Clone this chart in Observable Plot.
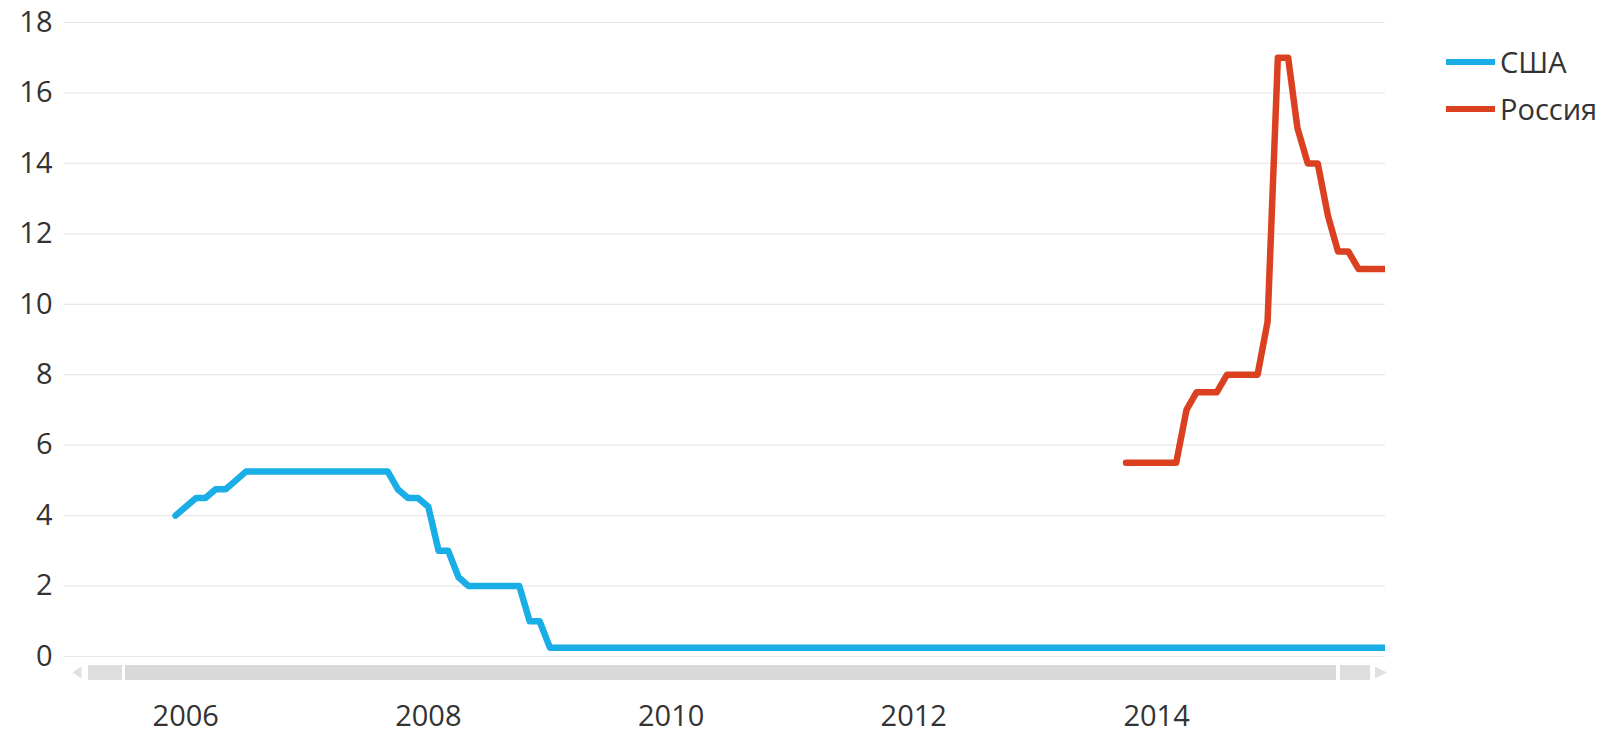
<!DOCTYPE html>
<html>
<head>
<meta charset="utf-8">
<script src="https://cdn.jsdelivr.net/npm/d3@7"></script>
<script src="https://cdn.jsdelivr.net/npm/@observablehq/plot@0.6"></script>
<style>
  html, body { margin: 0; padding: 0; background: #fff; overflow: hidden; }
  #wrap { position: relative; width: 1606px; height: 735px; font-family: "Open Sans", "Noto Sans", sans-serif; }
  #legend { position: absolute; left: 1446px; top: 38px; color: #333; font-size: 29px; }
  .item { display: flex; align-items: center; height: 47px; }
  .sw { width: 49px; height: 6px; margin-right: 5px; }
</style>
</head>
<body>
<div id="wrap"></div>
<script>
// ---- data ----
const seriesNames = ["США", "Россия"];
const seriesColors = ["#1AAEE6", "#DB4121"];

// US policy rate, monthly from 2005-12 to 2015-12
const usStart = [2005, 12];
const usRate = [
  4.0,
  4.25, 4.5, 4.5, 4.75, 4.75, 5.0, 5.25, 5.25, 5.25, 5.25, 5.25, 5.25,
  5.25, 5.25, 5.25, 5.25, 5.25, 5.25, 5.25, 5.25, 5.25, 4.75, 4.5, 4.5,
  4.25, 3.0, 3.0, 2.25, 2.0, 2.0, 2.0, 2.0, 2.0, 2.0, 1.0, 1.0,
  0.25, 0.25, 0.25, 0.25, 0.25, 0.25, 0.25, 0.25, 0.25, 0.25, 0.25, 0.25,
  0.25, 0.25, 0.25, 0.25, 0.25, 0.25, 0.25, 0.25, 0.25, 0.25, 0.25, 0.25,
  0.25, 0.25, 0.25, 0.25, 0.25, 0.25, 0.25, 0.25, 0.25, 0.25, 0.25, 0.25,
  0.25, 0.25, 0.25, 0.25, 0.25, 0.25, 0.25, 0.25, 0.25, 0.25, 0.25, 0.25,
  0.25, 0.25, 0.25, 0.25, 0.25, 0.25, 0.25, 0.25, 0.25, 0.25, 0.25, 0.25,
  0.25, 0.25, 0.25, 0.25, 0.25, 0.25, 0.25, 0.25, 0.25, 0.25, 0.25, 0.25,
  0.25, 0.25, 0.25, 0.25, 0.25, 0.25, 0.25, 0.25, 0.25, 0.25, 0.25, 0.25
];

// Russia key rate, monthly from 2013-10 to 2015-12
const ruStart = [2013, 10];
const ruRate = [
  5.5, 5.5, 5.5,
  5.5, 5.5, 5.5, 7.0, 7.5, 7.5, 7.5, 8.0, 8.0, 8.0, 8.0, 9.5,
  17.0, 17.0, 15.0, 14.0, 14.0, 12.5, 11.5, 11.5, 11.0, 11.0, 11.0, 11.0
];

const xDomain = ["2005-01-01", "2015-11-21"];
const xTickYears = [2006, 2008, 2010, 2012, 2014];
const yTicks = [0, 2, 4, 6, 8, 10, 12, 14, 16, 18];

// ---- build table ----
function monthly(name, start, values) {
  const s = new Date(Date.UTC(start[0], start[1] - 1, 1));
  return values.map((v, i) => ({ series: name, date: d3.utcMonth.offset(s, i), value: v }));
}
const rows = [
  ...monthly(seriesNames[0], usStart, usRate),
  ...monthly(seriesNames[1], ruStart, ruRate)
];
const xTicks = xTickYears.map(y => new Date(Date.UTC(y, 0, 1)));

const W = 1606, H = 735;
const mL = 64, mR = 221, mT = 22, mB = 79;

const plot = Plot.plot({
  width: W,
  height: H,
  marginLeft: mL,
  marginRight: mR,
  marginTop: mT,
  marginBottom: mB,
  style: { fontFamily: '"Open Sans", "Noto Sans", sans-serif', fontSize: "29px", color: "#333", background: "#fff" },
  x: { type: "utc", domain: xDomain.map(d => new Date(d + "T00:00:00Z")) },
  y: { domain: [0, 18] },
  color: { domain: seriesNames, range: seriesColors },
  marks: [
    Plot.gridY(yTicks, { stroke: "#E8E8E8", strokeOpacity: 1, strokeWidth: 1.2 }),
    Plot.axisY(yTicks, { tickSize: 0, tickPadding: 12, fontSize: 29, fill: "#333", label: null }),
    Plot.axisX(xTicks, { tickSize: 0, tickPadding: 49, fontSize: 29, fill: "#333", label: null, tickFormat: d3.utcFormat("%Y") }),
    Plot.line(rows, { x: "date", y: "value", z: "series", stroke: "series", strokeWidth: 6.5, strokeLinejoin: "round", clip: true })
  ]
});

document.getElementById("wrap").appendChild(plot);

// ---- scrollbar decoration under the plot ----
const svg = d3.select(plot);
const sb = svg.append("g");
const y0 = H - mB + 9, hb = 15, yc = y0 + hb / 2;
const xl = mL, xr = W - mR;
sb.append("path").attr("d", `M${xl + 8.5},${yc} L${xl + 17.5},${yc - 6} L${xl + 17.5},${yc + 6} Z`).attr("fill", "#E0E0E0");
sb.append("rect").attr("x", xl + 24).attr("y", y0).attr("width", 34).attr("height", hb).attr("fill", "#DEDEDE");
sb.append("rect").attr("x", xl + 61).attr("y", y0).attr("width", (xr - 49) - (xl + 61)).attr("height", hb).attr("fill", "#D9D9D9");
sb.append("rect").attr("x", xr - 45).attr("y", y0).attr("width", 30).attr("height", hb).attr("fill", "#DEDEDE");
sb.append("path").attr("d", `M${xr + 2},${yc} L${xr - 10},${yc - 6} L${xr - 10},${yc + 6} Z`).attr("fill", "#E0E0E0");

// ---- legend ----
const lg = document.createElement("div");
lg.id = "legend";
seriesNames.forEach((n, i) => {
  const it = document.createElement("div");
  it.className = "item";
  const sw = document.createElement("div");
  sw.className = "sw";
  sw.style.background = seriesColors[i];
  const t = document.createElement("span");
  t.textContent = n;
  it.appendChild(sw); it.appendChild(t);
  lg.appendChild(it);
});
document.getElementById("wrap").appendChild(lg);
</script>
</body>
</html>
